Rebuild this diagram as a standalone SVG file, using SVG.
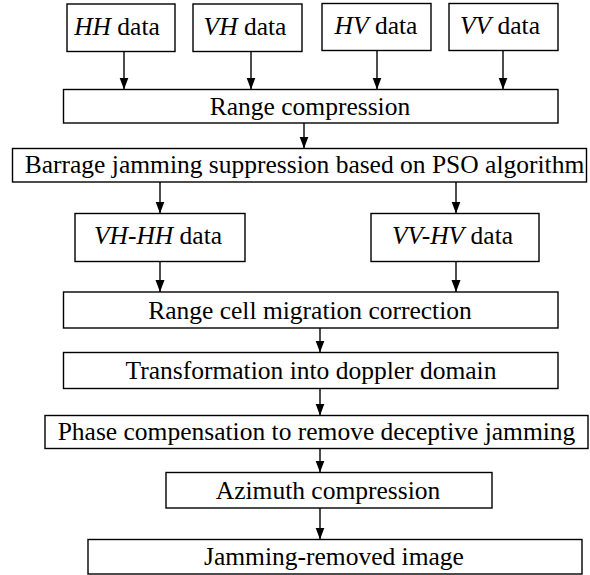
<svg xmlns="http://www.w3.org/2000/svg" width="590" height="575" viewBox="0 0 590 575">
<style>
rect{fill:#fff;stroke:#000;stroke-width:1.4}
.c line{stroke:#000;stroke-width:1.4;marker-end:url(#ah)}
</style>
<defs>
<marker id="ah" markerUnits="userSpaceOnUse" markerWidth="12" markerHeight="10" refX="12" refY="5" orient="auto" viewBox="0 0 12 10">
<path d="M0,0.5 L12,5 L0,9.5 z" fill="#000"/>
</marker>
</defs>
<rect width="590" height="575" style="fill:#fff;stroke:none"/>
<g font-family="Liberation Serif, serif" font-size="25.5" text-anchor="middle" fill="#000">
<g id="hh"><rect x="67" y="4" width="108" height="47.5"/><text x="117" y="34.5"><tspan font-style="italic">HH</tspan> data</text></g>
<g id="vh"><rect x="193" y="4" width="109" height="47.5"/><text x="245" y="34.5"><tspan font-style="italic">VH</tspan> data</text></g>
<g id="hv"><rect x="322" y="3.5" width="109" height="47"/><text x="376" y="33.5"><tspan font-style="italic">HV</tspan> data</text></g>
<g id="vv"><rect x="449" y="3.5" width="109" height="47"/><text x="500" y="33.5"><tspan font-style="italic">VV</tspan> data</text></g>
<g id="rc"><rect x="63.5" y="89.5" width="494.5" height="33.5"/><text x="310" y="114.5">Range compression</text></g>
<g id="bj"><rect x="12.5" y="148.5" width="574" height="33.5"/><text x="304.5" y="173">Barrage jamming suppression based on PSO algorithm</text></g>
<g id="vhhh"><rect x="75" y="213.5" width="170" height="48"/><text x="158" y="244"><tspan font-style="italic">VH-HH</tspan> data</text></g>
<g id="vvhv"><rect x="371" y="213.5" width="168" height="48"/><text x="452.5" y="244"><tspan font-style="italic">VV-HV</tspan> data</text></g>
<g id="rcm"><rect x="63.5" y="292" width="494.5" height="36"/><text x="310" y="318.5">Range cell migration correction</text></g>
<g id="td"><rect x="63.5" y="352.5" width="494.5" height="36"/><text x="311" y="378.5">Transformation into doppler domain</text></g>
<g id="pc"><rect x="45" y="415.5" width="543" height="33"/><text x="316.5" y="440">Phase compensation to remove deceptive jamming</text></g>
<g id="ac"><rect x="166" y="472.5" width="326" height="35.5"/><text x="328" y="498.5">Azimuth compression</text></g>
<g id="jr"><rect x="88" y="539.5" width="494" height="34.5"/><text x="334" y="565">Jamming-removed image</text></g>
</g>
<g class="c" id="connectors">
<line x1="124" y1="51.5" x2="124" y2="89.5"/>
<line x1="251" y1="51.5" x2="251" y2="89.5"/>
<line x1="377" y1="50.5" x2="377" y2="89.5"/>
<line x1="503" y1="50.5" x2="503" y2="89.5"/>
<line x1="304" y1="123" x2="304" y2="148.5"/>
<line x1="160" y1="182" x2="160" y2="213.5"/>
<line x1="456" y1="182" x2="456" y2="213.5"/>
<line x1="160" y1="261.5" x2="160" y2="292"/>
<line x1="456" y1="261.5" x2="456" y2="292"/>
<line x1="320" y1="328" x2="320" y2="352.5"/>
<line x1="320" y1="388.5" x2="320" y2="415.5"/>
<line x1="320" y1="448.5" x2="320" y2="472.5"/>
<line x1="320" y1="508" x2="320" y2="539.5"/>
</g>
</svg>
